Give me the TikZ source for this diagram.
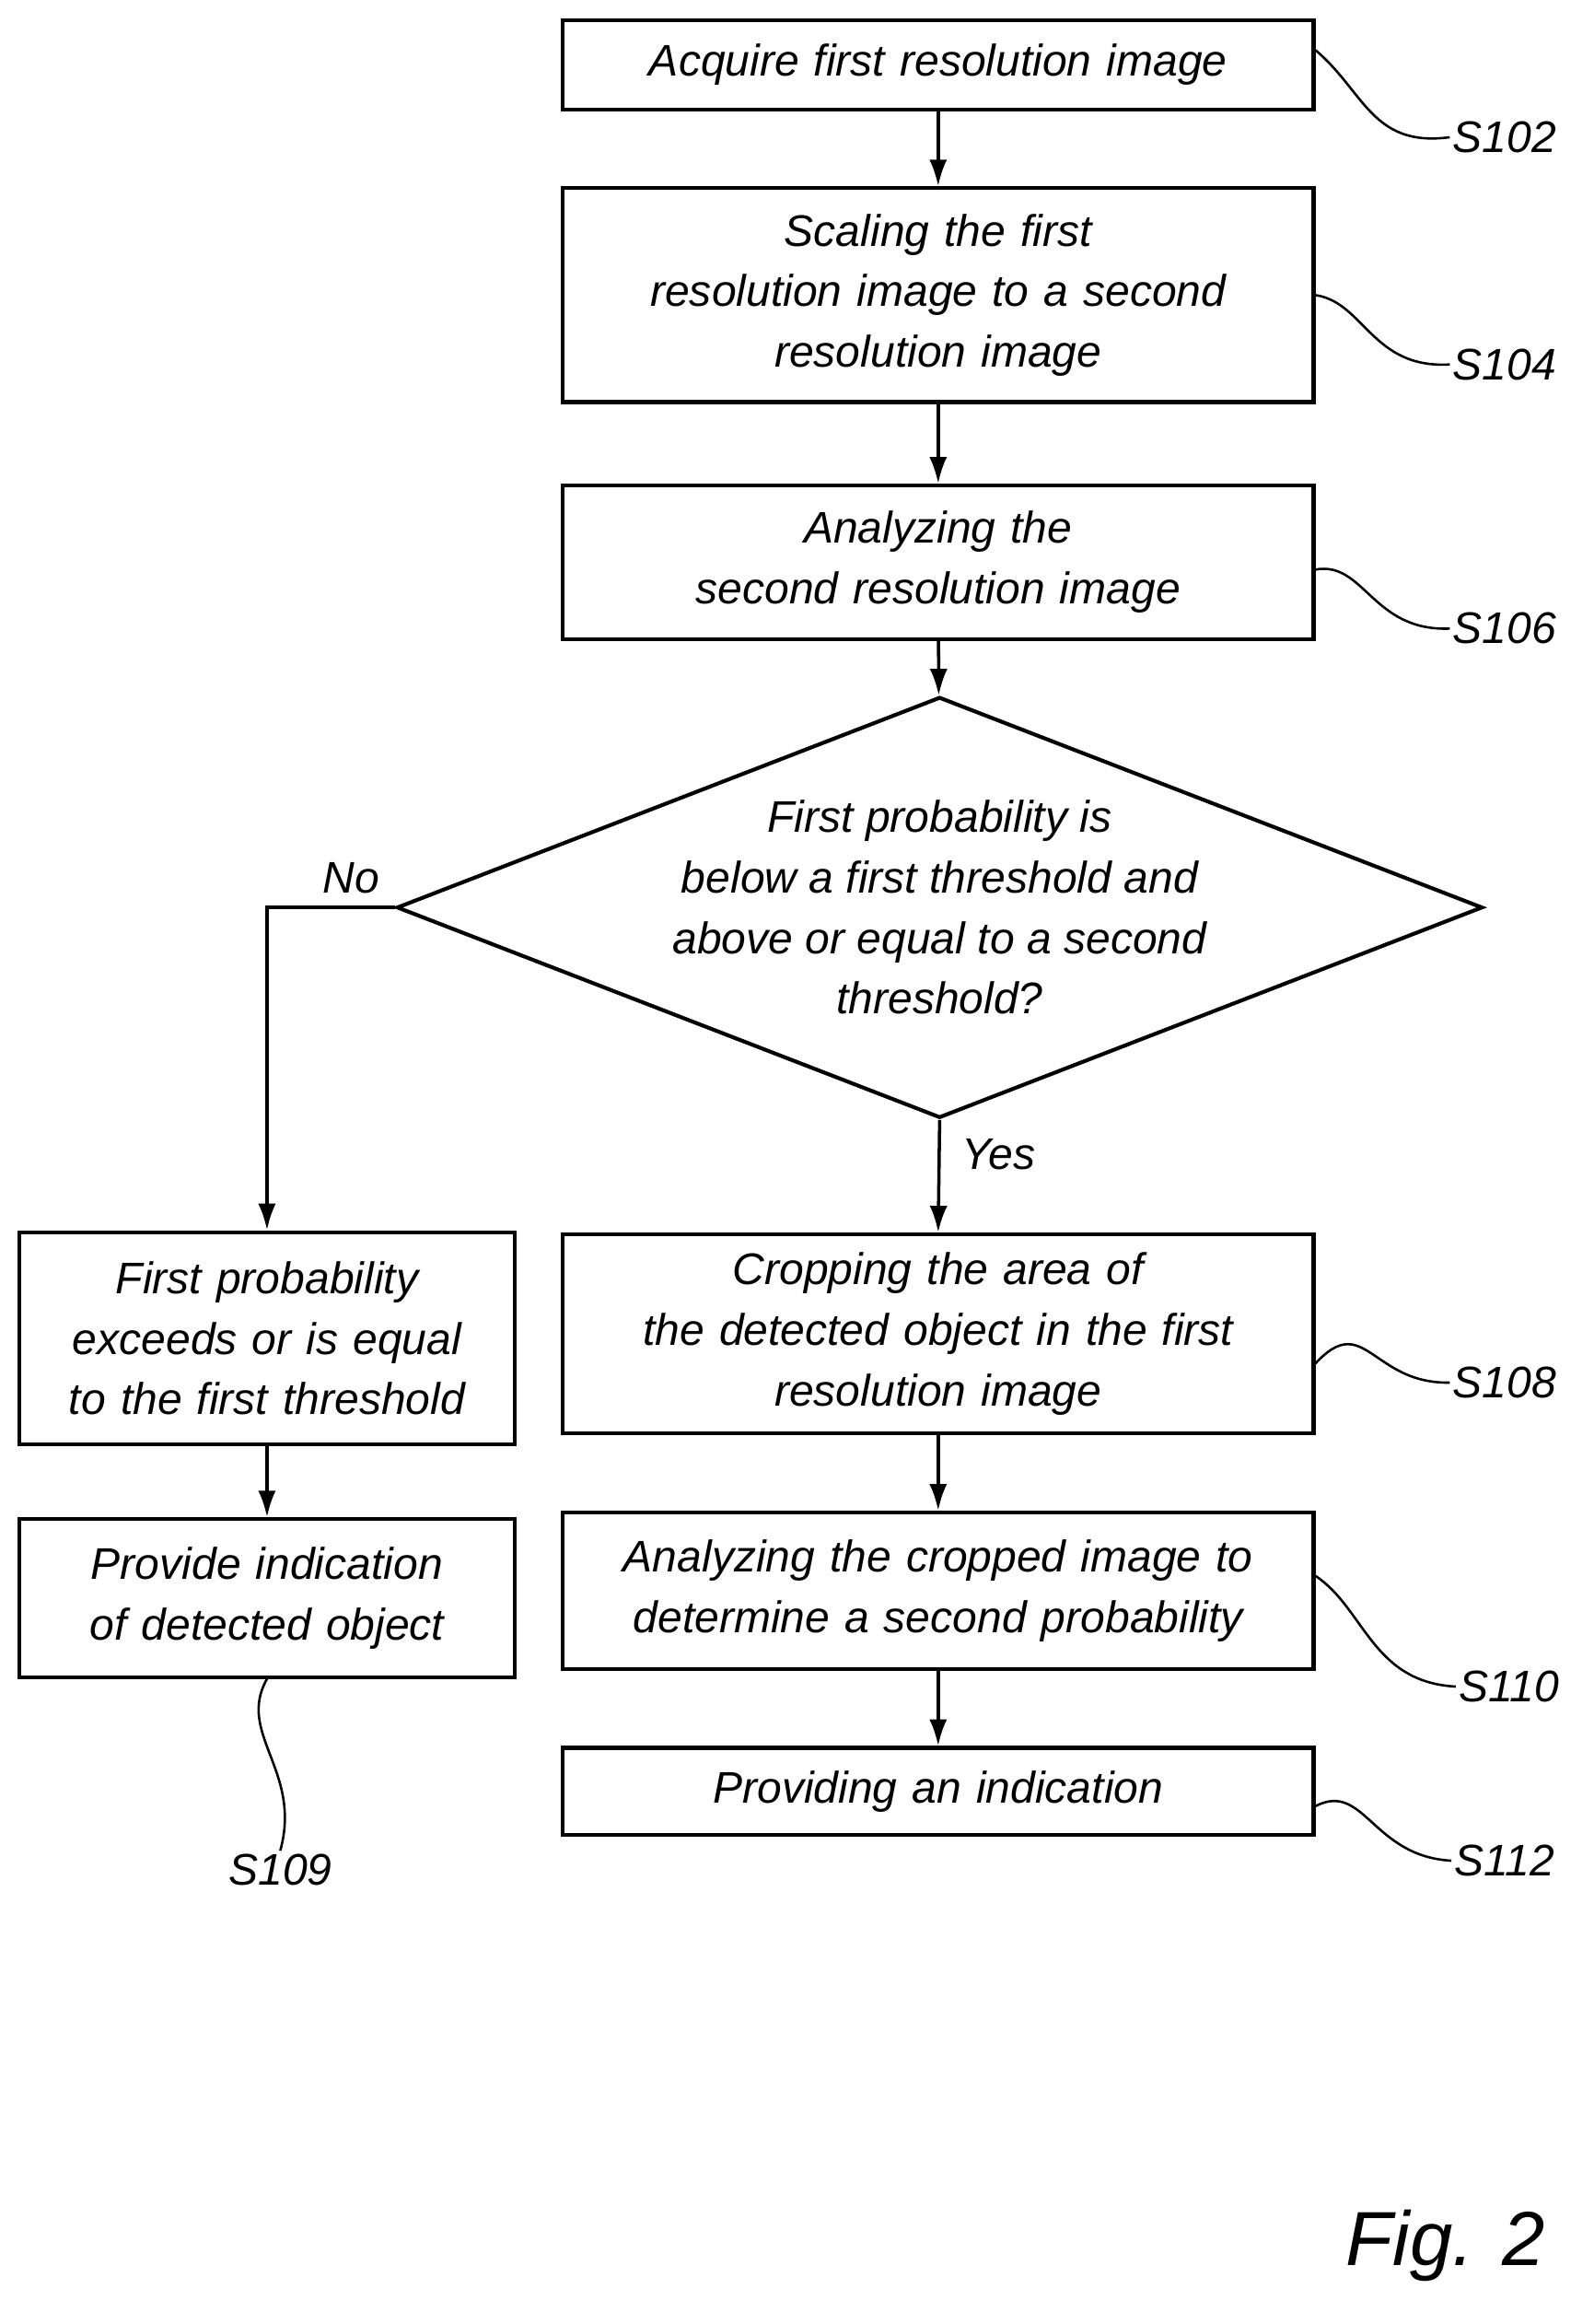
\documentclass[tikz,border=0pt]{standalone}
\usepackage{fontspec}
\setmainfont{Liberation Sans}
\usetikzlibrary{shapes.geometric,arrows.meta}
\tikzset{
  proc/.style={draw, line width=2.6pt, minimum width=509pt, text width=480pt, align=center, inner sep=0pt, font=\fontsize{30}{41}\selectfont\itshape},
  sbox/.style={proc, minimum width=336pt, text width=320pt},
  lbl/.style={font=\fontsize{30}{36}\selectfont\itshape, inner sep=2pt},
  flow/.style={line width=2.2pt, -{Latex[length=18pt,width=12pt]}},
  sq/.style={line width=1.6pt}
}
\begin{document}
\begin{tikzpicture}[x=1pt,y=-1pt]
    \useasboundingbox (0,0) rectangle (1080,1575);

    \node[proc, minimum height=61pt] (s102) at (636,44) {Acquire first resolution image};
    \node[proc, minimum height=145pt] (s104) at (636,200) {Scaling the first\\ resolution image to a second\\ resolution image};
    \node[proc, minimum height=104pt] (s106) at (636,381) {Analyzing the\\ second resolution image};
    \node[diamond, draw, line width=2.6pt, aspect=2.58, minimum width=645pt, minimum height=250pt, inner sep=0pt, align=center, font=\fontsize{30}{41}\selectfont\itshape] (dec) at (637,615) {First probability is\\ below a first threshold and\\ above or equal to a second\\ threshold?};
    \node[sbox, minimum height=144pt] (s107) at (181,907) {First probability\\ exceeds or is equal\\ to the first threshold};
    \node[sbox, minimum height=107pt] (s109) at (181,1083) {Provide indication\\ of detected object};
    \node[proc, minimum height=135pt] (s108) at (636,904) {Cropping the area of\\ the detected object in the first\\ resolution image};
    \node[proc, minimum height=106pt] (s110) at (636,1078) {Analyzing the cropped image to\\ determine a second probability};
    \node[proc, minimum height=59pt] (s112) at (636,1214) {Providing an indication};

    % step labels
    \node[lbl] (l102) at (1020,93) {S102};
    \node[lbl] (l104) at (1020,247) {S104};
    \node[lbl] (l106) at (1020,426) {S106};
    \node[lbl] (l108) at (1020,937) {S108};
    \node[lbl] (l110) at (1023,1143) {S110};
    \node[lbl] (l112) at (1020,1261) {S112};
    \node[lbl] (l109) at (190,1267) {S109};
    \node[font=\fontsize{52}{60}\selectfont\itshape] (fig) at (980,1522) {Fig. 2};

    \node[lbl] (no) at (238,595) {No};
    \node[lbl] (yes) at (677,782) {Yes};

    \draw[flow] (s102) -- (s104);
    \draw[flow] (s104) -- (s106);
    \draw[flow] (s106) -- (dec);
    \draw[flow] (dec.west) -| (s107.north);
    \draw[flow] (dec.south) -- (s108.north);
    \draw[flow] (s107) -- (s109);
    \draw[flow] (s108) -- (s110);
    \draw[flow] (s110) -- (s112);

    \draw[sq] ([yshift=10]s102.east) .. controls (925,62) and (930,100) .. (l102.west);
    \draw[sq] ([yshift=0]s104.east) .. controls (925,205) and (930,250) .. (l104.west);
    \draw[sq] ([yshift=-5]s106.east) .. controls (925,380) and (930,428) .. (l106.west);
    \draw[sq] ([yshift=-20]s108.east) .. controls (925,888) and (930,938) .. (l108.west);
    \draw[sq] ([yshift=10]s110.east) .. controls (925,1090) and (930,1140) .. (l110.west);
    \draw[sq] ([yshift=-10]s112.east) .. controls (925,1207) and (930,1258) .. (l112.west);
    \draw[sq] (s109.south) .. controls (160,1175) and (205,1200) .. (l109.north);
\end{tikzpicture}
\end{document}
